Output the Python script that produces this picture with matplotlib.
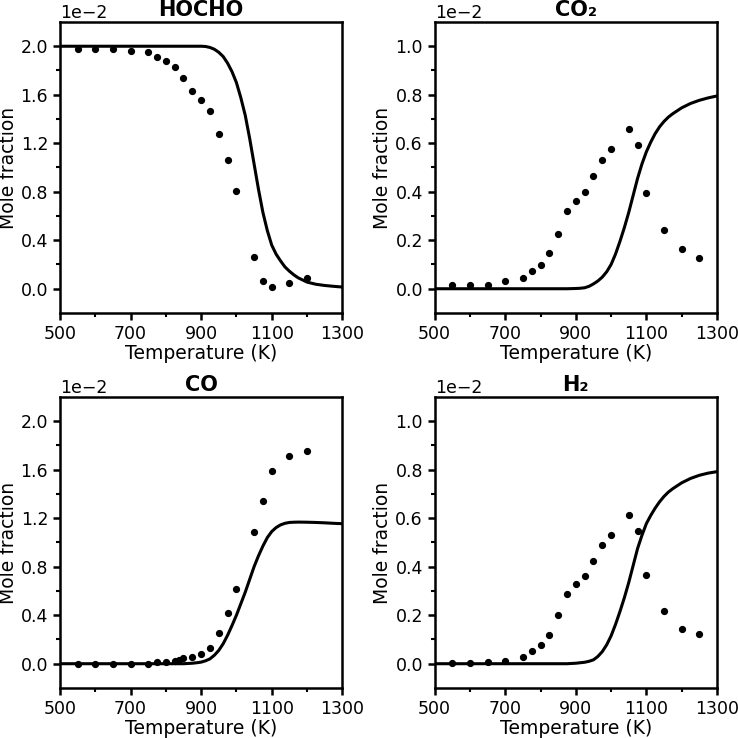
import numpy as np
import matplotlib
matplotlib.use("Agg")
import matplotlib.pyplot as plt

# mole fractions are listed in units of 1e-2
SCALE = 1e-2

# experimental points
t_exp = [550, 600, 650, 700, 750, 775, 800, 825, 850, 875, 900, 925, 950,
         975, 1000, 1050, 1075, 1100, 1150, 1200, 1250]
t_hocho_exp = [550, 600, 650, 700, 750, 775, 800, 825, 850, 875, 900, 925,
               950, 975, 1000, 1050, 1075, 1100, 1150, 1200]
hocho_exp = [1.98, 1.98, 1.98, 1.96, 1.95, 1.91, 1.88, 1.83, 1.74, 1.63, 1.56,
             1.47, 1.28, 1.06, 0.805, 0.261, 0.063, 0.016, 0.044, 0.088]
co2_exp = [0.015, 0.016, 0.016, 0.032, 0.044, 0.073, 0.099, 0.147, 0.227,
           0.319, 0.363, 0.400, 0.463, 0.529, 0.576, 0.657, 0.593, 0.396,
           0.242, 0.163, 0.128]
h2_exp = [0.005, 0.005, 0.007, 0.011, 0.026, 0.054, 0.077, 0.120, 0.199,
          0.288, 0.328, 0.360, 0.424, 0.489, 0.530, 0.615, 0.547, 0.365,
          0.217, 0.143, 0.121]

t_co_exp = [550, 600, 650, 700, 750, 775, 800, 825, 837, 850, 875, 900, 925,
            950, 975, 1000, 1050, 1075, 1100, 1150, 1200]
co_exp = [0.0, 0.0, 0.0, 0.0, 0.0, 0.011, 0.014, 0.025, 0.033, 0.044, 0.058,
          0.077, 0.126, 0.255, 0.418, 0.618, 1.09, 1.338, 1.588, 1.717, 1.758]

# model curves
t_model = [500, 600, 700, 800, 850, 875, 887.5, 900, 912.5, 925, 937.5, 950,
           962.5, 975, 987.5, 1000, 1012.5, 1025, 1037.5, 1050, 1062.5, 1075,
           1087.5, 1100, 1112.5, 1125, 1137.5, 1150, 1162.5, 1175, 1200, 1225,
           1250, 1275, 1300]
hocho_model = [2.0, 2.0, 2.0, 2.0, 2.0, 2.0, 2.0, 2.0, 1.998, 1.99, 1.975,
               1.95, 1.915, 1.86, 1.79, 1.70, 1.575, 1.43, 1.24, 1.03, 0.82,
               0.63, 0.48, 0.36, 0.285, 0.23, 0.18, 0.145, 0.115, 0.09, 0.055,
               0.037, 0.027, 0.02, 0.014]
co2_model = [0.0, 0.0, 0.0, 0.0, 0.0, 0.0, 0.0005, 0.001, 0.002, 0.004, 0.01,
             0.02, 0.032, 0.048, 0.07, 0.10, 0.143, 0.195, 0.252, 0.315, 0.385,
             0.455, 0.515, 0.565, 0.605, 0.64, 0.668, 0.69, 0.708, 0.722,
             0.746, 0.764, 0.777, 0.787, 0.795]
co_model = [0.0, 0.0, 0.0, 0.0, 0.0, 0.004, 0.008, 0.013, 0.024, 0.04, 0.07,
            0.11, 0.165, 0.235, 0.315, 0.40, 0.495, 0.59, 0.695, 0.80, 0.89,
            0.97, 1.04, 1.09, 1.123, 1.145, 1.158, 1.165, 1.167, 1.168, 1.167,
            1.165, 1.162, 1.158, 1.155]
h2_model = [0.0, 0.0, 0.0, 0.0, 0.0, 0.0, 0.001, 0.002, 0.004, 0.006, 0.01,
            0.016, 0.03, 0.05, 0.078, 0.115, 0.162, 0.215, 0.272, 0.335,
            0.405, 0.475, 0.53, 0.578, 0.612, 0.642, 0.668, 0.69, 0.708, 0.722,
            0.746, 0.764, 0.777, 0.786, 0.792]

x_major = [500, 700, 900, 1100, 1300]
x_minor = [600, 800, 1000, 1200]

panels = [
    ("HOCHO", t_hocho_exp, hocho_exp, hocho_model, (-0.2, 2.2), 0.4),
    ("CO\u2082", t_exp, co2_exp, co2_model, (-0.1, 1.1), 0.2),
    ("CO", t_co_exp, co_exp, co_model, (-0.2, 2.2), 0.4),
    ("H\u2082", t_exp, h2_exp, h2_model, (-0.1, 1.1), 0.2),
]

rects = [
    [0.0813, 0.5759, 0.3825, 0.3943],
    [0.5890, 0.5759, 0.3825, 0.3943],
    [0.0813, 0.0678, 0.3825, 0.3943],
    [0.5890, 0.0678, 0.3825, 0.3943],
]

plt.rcParams["font.size"] = 12.5

fig = plt.figure(figsize=(7.38, 7.38), dpi=100)

for (title, t_pts, y_pts, y_mod, ylim, step), rect in zip(panels, rects):
    ax = fig.add_axes(rect)
    ax.plot(t_model, np.array(y_mod) * SCALE, color="black", lw=2.2)
    ax.plot(t_pts, np.array(y_pts) * SCALE, "o", color="black", ms=4.2,
            linestyle="none")

    ax.set_xlim(500, 1300)
    ax.set_ylim(ylim[0] * SCALE, ylim[1] * SCALE)
    ax.set_xticks(x_major)
    ax.set_xticks(x_minor, minor=True)
    ax.set_yticks(np.arange(0, ylim[1], step) * SCALE)
    ax.set_yticks(np.arange(step / 2, ylim[1], step) * SCALE, minor=True)
    ax.ticklabel_format(axis="y", style="sci", scilimits=(-2, -2))

    ax.tick_params(which="major", length=5, width=1.8, labelsize=12.5)
    ax.tick_params(which="minor", length=3, width=1.5)
    for s in ax.spines.values():
        s.set_linewidth(1.8)
    ax.yaxis.get_offset_text().set_fontsize(12.5)

    ax.set_title(title, fontsize=15, fontweight="bold", pad=4)
    ax.set_xlabel("Temperature (K)", fontsize=13.5, labelpad=1)
    ax.set_ylabel("Mole fraction", fontsize=13.5, labelpad=2)

fig.savefig("out.png", dpi=100)
